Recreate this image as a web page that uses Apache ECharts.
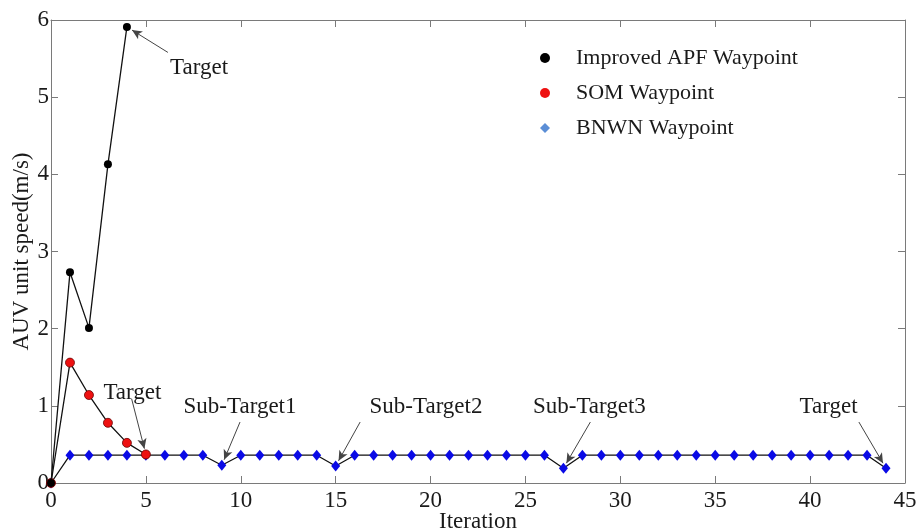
<!DOCTYPE html>
<html>
<head>
<meta charset="utf-8">
<script src="https://cdn.jsdelivr.net/npm/echarts@6/dist/echarts.min.js"></script>
<style>html,body{margin:0;padding:0;background:#fff}#c{width:916px;height:530px}</style>
</head>
<body>
<div id="c"></div>
<script>
// ---- data ----
var apfSpeed  = [0, 2.73, 2.01, 4.13, 5.91];
var somSpeed  = [0, 1.56, 1.14, 0.78, 0.52, 0.37];
var bnwnSpeed = [0, 0.36, 0.36, 0.36, 0.36, 0.36, 0.36, 0.36, 0.36, 0.23,
                 0.36, 0.36, 0.36, 0.36, 0.36, 0.22, 0.36, 0.36, 0.36, 0.36,
                 0.36, 0.36, 0.36, 0.36, 0.36, 0.36, 0.36, 0.19, 0.36, 0.36,
                 0.36, 0.36, 0.36, 0.36, 0.36, 0.36, 0.36, 0.36, 0.36, 0.36,
                 0.36, 0.36, 0.36, 0.36, 0.19];
var seriesNames = ['Improved APF Waypoint', 'SOM Waypoint', 'BNWN Waypoint'];
var xTicks = [0, 5, 10, 15, 20, 25, 30, 35, 40, 45];
var yTicks = [0, 1, 2, 3, 4, 5, 6];
var xAxisTitle = 'Iteration';
var yAxisTitle = 'AUV unit speed(m/s)';
// annotations: label, series index, point index, label position, arrow start
var annoLabels = ['Target', 'Target', 'Sub-Target1', 'Sub-Target2', 'Sub-Target3', 'Target'];
var annoSeries = [0, 1, 2, 2, 2, 2];
var annoPoint  = [4, 5, 9, 15, 27, 44];
var annoTextAt = [[7.80, 5.38], [4.29, 1.17], [9.96, 0.985], [19.76, 0.985], [28.37, 0.985], [40.97, 0.985]];
var annoFrom   = [[6.16, 5.58], [4.25, 1.09], [9.96, 0.79], [16.29, 0.79], [28.42, 0.79], [42.57, 0.79]];

var allSeriesData = [apfSpeed, somSpeed, bnwnSpeed];
function pairs(arr){ return arr.map(function(v,i){ return [i, v]; }); }

var FONT = 'Liberation Serif';
var chart = echarts.init(document.getElementById('c'), null, {renderer:'canvas'});
var axisGray = '#7a7a7a';
function xAx(pos, show){
  return {type:'value', position:pos, min:xTicks[0], max:xTicks[xTicks.length-1], interval:5,
    axisLine:{show:true, onZero:false, lineStyle:{color:axisGray, width:1}},
    axisTick:{show:true, inside:true, length:7, lineStyle:{color:axisGray}},
    axisLabel:{show:show, color:'#1a1a1a', fontFamily:FONT, fontSize:23, margin:6},
    splitLine:{show:false},
    name: show ? xAxisTitle : '', nameLocation:'middle', nameGap:27, nameMoveOverlap:false,
    nameTextStyle:{color:'#1a1a1a', fontFamily:FONT, fontSize:23}};
}
function yAx(pos, show){
  return {type:'value', position:pos, min:yTicks[0], max:yTicks[yTicks.length-1], interval:1,
    axisLine:{show:true, onZero:false, lineStyle:{color:axisGray, width:1}},
    axisTick:{show:true, inside:true, length:7, lineStyle:{color:axisGray}},
    axisLabel:{show:show, color:'#1a1a1a', fontFamily:FONT, fontSize:23, margin:2},
    splitLine:{show:false},
    name: show ? yAxisTitle : '', nameLocation:'middle', nameGap:18, nameMoveOverlap:false,
    nameTextStyle:{color:'#1a1a1a', fontFamily:FONT, fontSize:23}};
}
var lineStyle = {color:'#111', width:1.3};
var option = {
  animation:false,
  backgroundColor:'#fff',
  grid:{left:51, right:11, top:20, bottom:47, containLabel:false, outerBoundsMode:'none'},
  xAxis:[xAx('bottom', true), xAx('top', false)],
  yAxis:[yAx('left', true), yAx('right', false)],
  legend:{
    orient:'vertical', left:535, top:42, itemWidth:10, itemHeight:10, itemGap:13,
    textStyle:{fontFamily:FONT, fontSize:22, color:'#1a1a1a', padding:[0,0,0,21]},
    data:[
      {name:seriesNames[0], icon:'circle', itemStyle:{color:'#000', borderWidth:0}},
      {name:seriesNames[1], icon:'circle', itemStyle:{color:'#ee1111', borderWidth:0}},
      {name:seriesNames[2], icon:'diamond', itemStyle:{color:'#5b8ed6', borderWidth:0}}
    ]
  },
  series:[
    {name:seriesNames[2], type:'line', data:pairs(bnwnSpeed), symbol:'diamond', symbolSize:[9,11],
     showAllSymbol:true, lineStyle:lineStyle, itemStyle:{color:'#0a0ae6', borderWidth:0}, z:2},
    {name:seriesNames[1], type:'line', data:pairs(somSpeed), symbol:'circle', symbolSize:9,
     lineStyle:lineStyle, itemStyle:{color:'#ee1111', borderColor:'#6a0000', borderWidth:0.8}, z:3},
    {name:seriesNames[0], type:'line', data:pairs(apfSpeed), symbol:'circle', symbolSize:8,
     lineStyle:lineStyle, itemStyle:{color:'#000', borderWidth:0}, z:4},
    {name:'annotations', type:'line', data:[], z:5,
     markPoint:{symbol:'circle', symbolSize:0, silent:true, data:annoLabels.map(function(t,i){
       return {coord:annoTextAt[i], value:t, label:{show:true, position:'inside', formatter:t,
         fontFamily:FONT, fontSize:23, color:'#1a1a1a'}};
     })}
    }
  ]
};
chart.setOption(option);

// arrows: tip placed a few pixels short of the annotated data point
var arrowData = annoLabels.map(function(t,i){
  var s = annoSeries[i], p = annoPoint[i];
  var pt = chart.convertToPixel({gridIndex:0}, [p, allSeriesData[s][p]]);
  var fr = chart.convertToPixel({gridIndex:0}, annoFrom[i]);
  var dx = fr[0]-pt[0], dy = fr[1]-pt[1], L = Math.sqrt(dx*dx+dy*dy);
  var tipPx = [pt[0]+dx/L*6, pt[1]+dy/L*6];
  var tip = chart.convertFromPixel({gridIndex:0}, tipPx);
  return [{coord:annoFrom[i]}, {coord:tip}];
});
chart.setOption({series:[{}, {}, {}, {
  markLine:{silent:true, symbol:['none','arrow'], symbolSize:[7,10], label:{show:false},
    lineStyle:{color:'#444', width:1, type:'solid'}, data:arrowData}
}]});
</script>
</body>
</html>
